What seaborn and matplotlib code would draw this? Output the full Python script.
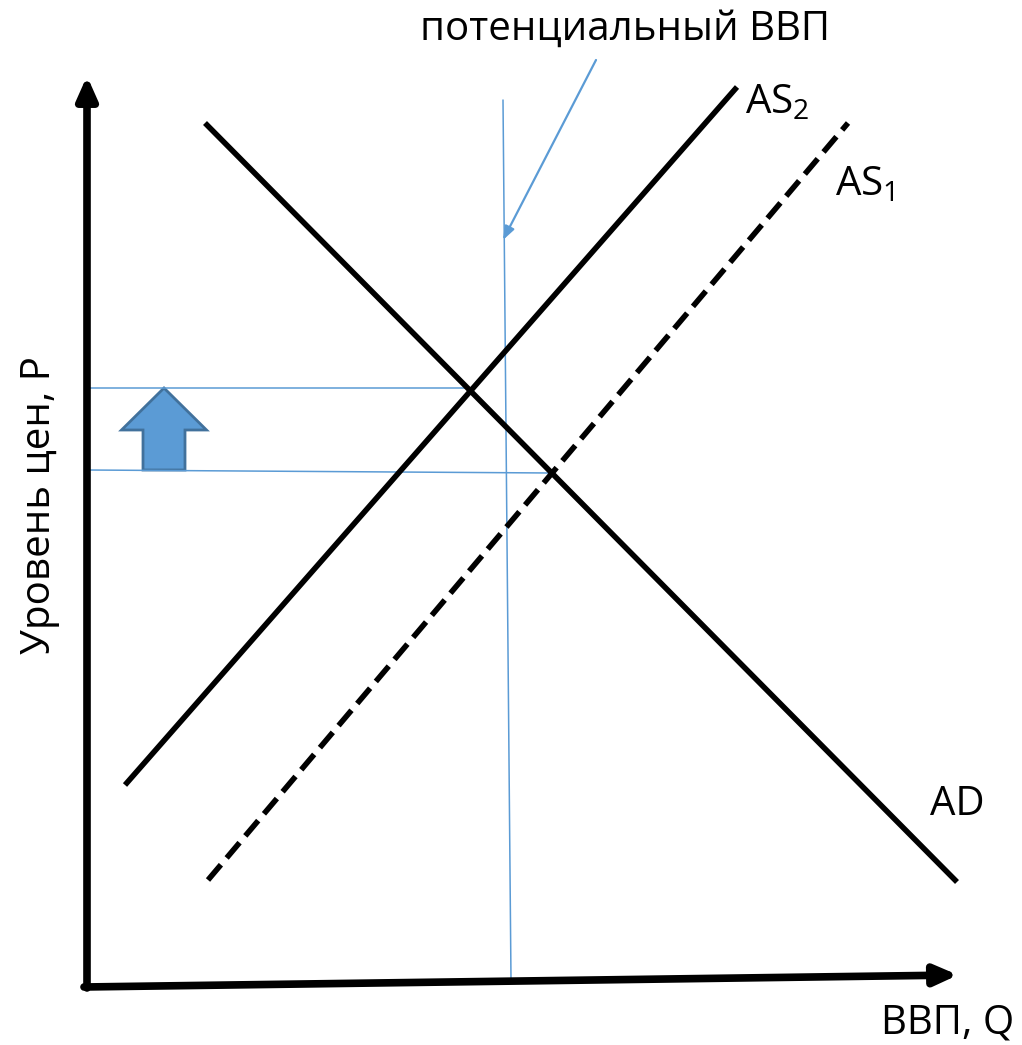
import matplotlib
matplotlib.use("Agg")
import matplotlib.pyplot as plt
import matplotlib.patches as mpatches
import seaborn as sns
import pandas as pd

# ---- data (diagram coordinates: Q to the right, P downward in image space) ----
ad_q = [205, 957]
ad_p = [123, 882]
as2_q = [125, 737]
as2_p = [785, 87]
as1_q = [208, 848]
as1_p = [880, 123]
potential_q = [503, 511]
potential_p = [100, 980]
price_new_q = [87, 470]
price_new_p = [388, 388]
price_old_q = [87, 551]
price_old_p = [470, 473]

labels = {"AD": "AD", "AS2": "AS$\\mathregular{_2}$", "AS1": "AS$\\mathregular{_1}$"}
title_text = "потенциальный ВВП"
x_label = "ВВП, Q"
y_label = "Уровень цен, P"

sns.set_style("white")
plt.rcParams["font.family"] = ["Open Sans", "DejaVu Sans"]
plt.rcParams["text.color"] = "black"

fig = plt.figure(figsize=(10.22, 10.45), dpi=100)
ax = fig.add_axes([0, 0, 1, 1])
ax.set_xlim(0, 1022)
ax.set_ylim(1045, 0)
ax.axis("off")

black = "#000000"
blue = "#5B9BD5"

def line(q, p, **kw):
    df = pd.DataFrame({"q": q, "p": p})
    sns.lineplot(data=df, x="q", y="p", ax=ax, sort=False, legend=False, **kw)

# thin blue guides
line(potential_q, potential_p, color=blue, linewidth=1.1)
line(price_new_q, price_new_p, color=blue, linewidth=1.1)
line(price_old_q, price_old_p, color=blue, linewidth=1.1)

# curves
line(ad_q, ad_p, color=black, linewidth=4.0, solid_capstyle="butt")
line(as2_q, as2_p, color=black, linewidth=4.0, solid_capstyle="butt")
line(as1_q, as1_p, color=black, linewidth=4.0, dashes=(3.6, 1.6),
     dash_capstyle="butt")

# axes arrows
ax.annotate("", xy=(87, 76), xytext=(87, 988),
            arrowprops=dict(arrowstyle="-|>,head_length=1.35,head_width=0.6",
                            color=black, lw=5.5, shrinkA=0, shrinkB=0))
ax.annotate("", xy=(958, 975), xytext=(84, 987),
            arrowprops=dict(arrowstyle="-|>,head_length=1.35,head_width=0.6",
                            color=black, lw=5.5, shrinkA=0, shrinkB=0))

# callout arrow for potential GDP
ax.annotate("", xy=(503, 240), xytext=(596, 60),
            arrowprops=dict(arrowstyle="-|>,head_length=0.8,head_width=0.3",
                            color=blue, lw=1.6, shrinkA=0, shrinkB=0))

# block arrow (price level rise)
ax.add_patch(mpatches.FancyArrow(164, 470, 0, -82, width=42, head_width=85,
                                 head_length=42, length_includes_head=True,
                                 facecolor=blue, edgecolor="#41719C", linewidth=2))

fs = 29
ax.text(625, 30, title_text, fontsize=fs, ha="center", va="center")
ax.text(745, 103, labels["AS2"], fontsize=fs, ha="left", va="center")
ax.text(835, 185, labels["AS1"], fontsize=fs, ha="left", va="center")
ax.text(930, 805, labels["AD"], fontsize=fs, ha="left", va="center")
ax.text(948, 1023, x_label, fontsize=fs, ha="center", va="center")
ax.text(40, 505, y_label, fontsize=fs, ha="center", va="center", rotation=90)

fig.savefig("out.png", dpi=100)
